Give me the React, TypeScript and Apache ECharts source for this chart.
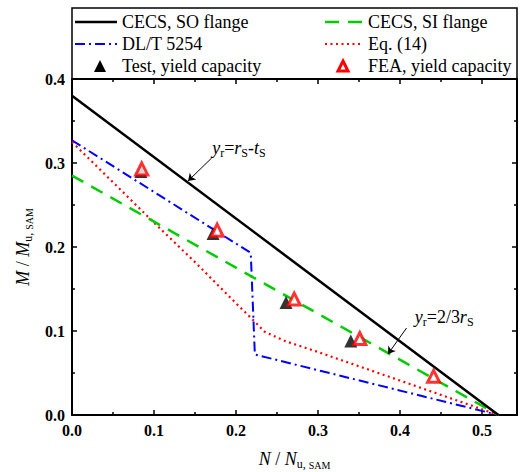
import React, { useEffect, useRef } from "react";
import * as echarts from "echarts";

const FONT = "Liberation Serif";

// axis ticks
const xMajor = [0, 0.1, 0.2, 0.3, 0.4, 0.5];
const xMinor = [0.05, 0.15, 0.25, 0.35, 0.45];
const yMajor = [0, 0.1, 0.2, 0.3, 0.4];
const yMinor = [0.05, 0.15, 0.25, 0.35];
const X_MAX = 0.5427;
const Y_MAX = 0.4;

// series data
const soX = [0, 0.52];
const soY = [0.38, 0];
const siX = [0, 0.52];
const siY = [0.285, 0];
const dlX = [0, 0.218, 0.223, 0.52];
const dlY = [0.327, 0.193, 0.072, 0];
const eqX = [0, 0.05, 0.1, 0.15, 0.2, 0.222, 0.235, 0.26, 0.3, 0.4, 0.52];
const eqY = [0.325, 0.277, 0.229, 0.182, 0.133, 0.112, 0.099, 0.088, 0.075, 0.041, 0];
const testX = [0.084, 0.172, 0.261, 0.34];
const testY = [0.29, 0.216, 0.134, 0.088];
const feaX = [0.085, 0.177, 0.271, 0.351, 0.441];
const feaY = [0.293, 0.22, 0.138, 0.091, 0.046];

// annotations: [textX, textY, arrowFromX, arrowFromY, arrowToX, arrowToY]
const ann1 = [0.171, 0.305, 0.1704, 0.306, 0.1415, 0.2786];
const ann2 = [0.418, 0.1036, 0.408, 0.1036, 0.3854, 0.0726];

const zip = (xs: number[], ys: number[]) => xs.map((x, i) => [x, ys[i]]);

const subRich = {
  i: { fontFamily: FONT, fontStyle: "italic", fontSize: 18, lineHeight: 22, color: "#000" },
  n: { fontFamily: FONT, fontSize: 18, lineHeight: 22, color: "#000" },
  s: { fontFamily: FONT, fontSize: 12, lineHeight: 12, verticalAlign: "bottom", color: "#000" },
  ss: { fontFamily: FONT, fontSize: 10, lineHeight: 12, verticalAlign: "bottom", color: "#000" },
};

function xAxisDef(position: string, values: number[], len: number, labels: boolean, line: boolean) {
  return {
    type: "value",
    position,
    min: 0,
    max: X_MAX,
    axisLine: { show: line, onZero: false, lineStyle: { color: "#000", width: 2 } },
    axisTick: { show: true, inside: true, length: len, customValues: values, lineStyle: { color: "#000", width: 1.5 } },
    axisLabel: labels
      ? {
          show: true,
          customValues: values,
          formatter: (v: number) => v.toFixed(1),
          fontFamily: FONT,
          fontWeight: "bold",
          fontSize: 16,
          color: "#000",
          margin: 7,
        }
      : { show: false },
    splitLine: { show: false },
  };
}

function yAxisDef(position: string, values: number[], len: number, labels: boolean, line: boolean) {
  return {
    type: "value",
    position,
    min: 0,
    max: Y_MAX,
    axisLine: { show: line, onZero: false, lineStyle: { color: "#000", width: 2 } },
    axisTick: { show: true, inside: true, length: len, customValues: values, lineStyle: { color: "#000", width: 1.5 } },
    axisLabel: labels
      ? {
          show: true,
          customValues: values,
          formatter: (v: number) => v.toFixed(1),
          fontFamily: FONT,
          fontWeight: "bold",
          fontSize: 16,
          color: "#000",
          margin: 7,
        }
      : { show: false },
    splitLine: { show: false },
  };
}

function tri(cx: number, cy: number, s: number) {
  return [
    [cx, cy - s / 2],
    [cx + s / 2, cy + s / 2],
    [cx - s / 2, cy + s / 2],
  ];
}

export default function App() {
  const ref = useRef<HTMLDivElement>(null);
  useEffect(() => {
    if (!ref.current) return;
    const chart = echarts.init(ref.current, undefined, { renderer: "svg" });
    const legendText = (x: number, y: number, t: string) => ({
      type: "text",
      x,
      y,
      style: { text: t, fontFamily: FONT, fontSize: 18, fill: "#000", verticalAlign: "middle", align: "left" },
      z: 10,
    });
    const option: any = {
      animation: false,
      backgroundColor: "#fff",
      grid: { left: 72, top: 79, width: 445, height: 336, containLabel: false, outerBoundsMode: "none" },
      xAxis: [
        {
          ...xAxisDef("bottom", xMajor, 5, true, true),
          name: "{i|N}{n| / }{i|N}{s|u, }{ss|SAM}",
          nameLocation: "middle",
          nameGap: 33,
          nameTextStyle: { rich: subRich },
        },
        xAxisDef("bottom", xMinor, 3, false, false),
        xAxisDef("top", xMajor, 5, false, true),
        xAxisDef("top", xMinor, 3, false, false),
      ],
      yAxis: [
        {
          ...yAxisDef("left", yMajor, 5, true, true),
          name: "{i|M}{n| / }{i|M}{s|u, }{ss|SAM}",
          nameLocation: "middle",
          nameGap: 30,
          nameRotate: 90,
          nameTextStyle: { rich: subRich },
        },
        yAxisDef("left", yMinor, 3, false, false),
        yAxisDef("right", yMajor, 5, false, true),
        yAxisDef("right", yMinor, 3, false, false),
      ],
      series: [
        {
          name: "DL/T 5254",
          type: "line",
          data: zip(dlX, dlY),
          showSymbol: false,
          lineStyle: { color: "#0000ff", width: 2, type: [10, 4, 2, 4] },
          z: 2,
        },
        {
          name: "Eq. (14)",
          type: "line",
          data: zip(eqX, eqY),
          showSymbol: false,
          lineStyle: { color: "#ff0000", width: 2.2, type: [2, 3.5] },
          z: 2,
        },
        {
          name: "CECS, SI flange",
          type: "line",
          data: zip(siX, siY),
          showSymbol: false,
          lineStyle: { color: "#00cc00", width: 2.5, type: [13, 9] },
          z: 2,
        },
        {
          name: "CECS, SO flange",
          type: "line",
          data: zip(soX, soY),
          showSymbol: false,
          lineStyle: { color: "#000", width: 2.5 },
          z: 3,
        },
        {
          name: "Test, yield capacity",
          type: "scatter",
          data: zip(testX, testY),
          symbol: "triangle",
          symbolSize: 13,
          itemStyle: { color: "#000" },
          z: 4,
        },
        {
          name: "FEA, yield capacity",
          type: "scatter",
          data: zip(feaX, feaY),
          symbol: "triangle",
          symbolSize: 12,
          itemStyle: { color: "#fff", borderColor: "#ff0000", borderWidth: 3 },
          z: 5,
        },
        {
          name: "arrows",
          type: "lines",
          coordinateSystem: "cartesian2d",
          symbol: ["none", "arrow"],
          symbolSize: [0, 7],
          lineStyle: { color: "#000", width: 1, opacity: 1 },
          data: [
            { coords: [[ann1[2], ann1[3]], [ann1[4], ann1[5]]] },
            { coords: [[ann2[2], ann2[3]], [ann2[4], ann2[5]]] },
          ],
          z: 6,
        },
      ],
    };
    chart.setOption(option);

    const p1 = chart.convertToPixel({ xAxisIndex: 0, yAxisIndex: 0 }, [ann1[0], ann1[1]]) as number[];
    const p2 = chart.convertToPixel({ xAxisIndex: 0, yAxisIndex: 0 }, [ann2[0], ann2[1]]) as number[];

    chart.setOption({
      graphic: [
        {
          type: "text",
          x: p1[0],
          y: p1[1],
          style: {
            text: "{i|y}{s|r}{n|=}{i|r}{s|S}{n|-}{i|t}{s|S}",
            rich: subRich,
            align: "left",
            verticalAlign: "bottom",
          },
          z: 10,
        },
        {
          type: "text",
          x: p2[0],
          y: p2[1],
          style: {
            text: "{i|y}{s|r}{n|=2/3}{i|r}{s|S}",
            rich: subRich,
            align: "left",
            verticalAlign: "bottom",
          },
          z: 10,
        },
        // legend box
        {
          type: "rect",
          shape: { x: 72, y: 8, width: 445, height: 71 },
          style: { fill: "none", stroke: "#000", lineWidth: 1.5 },
          z: 10,
        },
        { type: "line", shape: { x1: 75, y1: 22, x2: 117, y2: 22 }, style: { stroke: "#000", lineWidth: 2.5 }, z: 10 },
        legendText(122, 22, "CECS, SO flange"),
        {
          type: "line",
          shape: { x1: 325, y1: 22, x2: 363, y2: 22 },
          style: { stroke: "#00cc00", lineWidth: 2.5, lineDash: [14, 9] },
          z: 10,
        },
        legendText(368, 22, "CECS, SI flange"),
        {
          type: "line",
          shape: { x1: 75, y1: 44, x2: 117, y2: 44 },
          style: { stroke: "#0000ff", lineWidth: 2, lineDash: [10, 4, 2, 4] },
          z: 10,
        },
        legendText(122, 44, "DL/T 5254"),
        {
          type: "line",
          shape: { x1: 325, y1: 44, x2: 363, y2: 44 },
          style: { stroke: "#ff0000", lineWidth: 2.2, lineDash: [2, 3.5] },
          z: 10,
        },
        legendText(368, 44, "Eq. (14)"),
        { type: "polygon", shape: { points: tri(100, 66, 12) }, style: { fill: "#000" }, z: 10 },
        legendText(122, 66, "Test, yield capacity"),
        {
          type: "polygon",
          shape: { points: tri(343, 66, 10) },
          style: { fill: "#fff", stroke: "#ff0000", lineWidth: 3 },
          z: 10,
        },
        legendText(368, 66, "FEA, yield capacity"),
      ],
    });

    return () => chart.dispose();
  }, []);
  return (
    <div
      ref={ref}
      style={{ position: "fixed", left: 0, top: 0, width: 520, height: 472, background: "#fff" }}
    />
  );
}
